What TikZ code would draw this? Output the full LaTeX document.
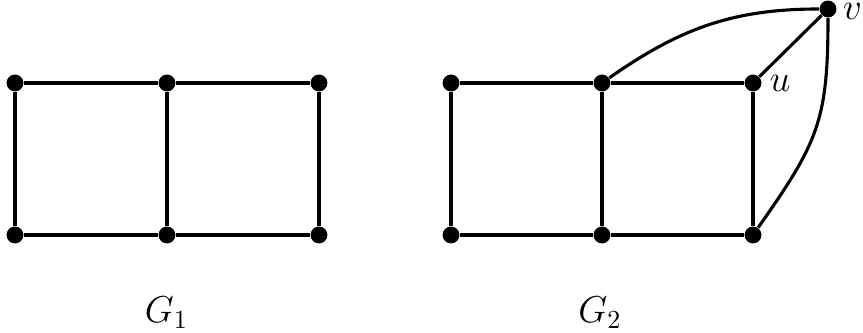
\documentclass[tikz,border=0pt]{standalone}
\begin{document}
\begin{tikzpicture}[x=0.3846pt,y=0.3846pt,
  vtx/.style={circle,fill=black,inner sep=0pt,minimum size=6.5pt},
  lbl/.style={font=\fontsize{14}{16}\selectfont,inner sep=0pt},
  edge/.style={line width=1.2pt}]
\useasboundingbox (0,0) rectangle (863,333);
% G1
\node[vtx] (a1) at (15,250) {};
\node[vtx] (a2) at (167,250) {};
\node[vtx] (a3) at (319,250) {};
\node[vtx] (b1) at (15,98) {};
\node[vtx] (b2) at (167,98) {};
\node[vtx] (b3) at (319,98) {};
% G2
\node[vtx] (c1) at (451,250) {};
\node[vtx] (c2) at (602,250) {};
\node[vtx] (u) at (753,250) {};
\node[vtx] (d1) at (451,98) {};
\node[vtx] (d2) at (602,98) {};
\node[vtx] (d3) at (753,98) {};
\node[vtx] (v) at (828,324) {};
\node[lbl] (ul) at (780,249.5) {$u$};
\node[lbl] (vl) at (852.5,322) {$v$};
\node[lbl] (g1) at (166.5,20) {$G_1$};
\node[lbl] (g2) at (600,20) {$G_2$};
\begin{scope}[edge]
\draw (a1) -- (a2) -- (a3) -- (b3) -- (b2) -- (b1) -- (a1);
\draw (a2) -- (b2);
\draw (c1) -- (c2) -- (u) -- (d3) -- (d2) -- (d1) -- (c1);
\draw (c2) -- (d2);
\draw (u) -- (v);
\draw (c2) to[out=35,in=180] (v);
\draw (v) to[out=-90,in=55,looseness=1.2] (d3);
\end{scope}
\end{tikzpicture}
\end{document}
